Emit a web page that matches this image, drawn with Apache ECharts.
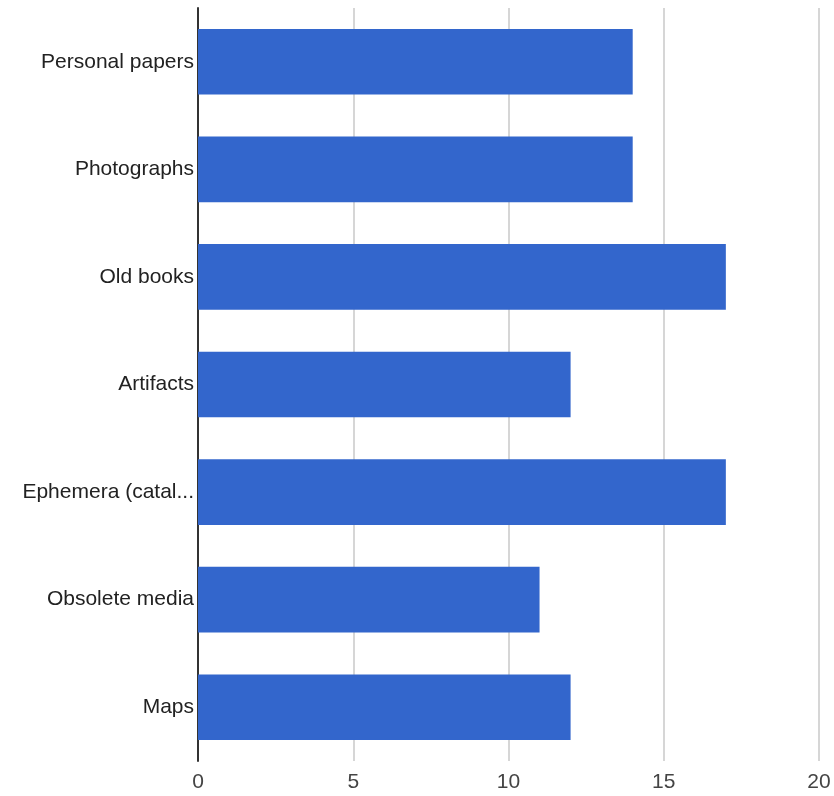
<!DOCTYPE html>
<html>
<head>
<meta charset="utf-8">
<script src="https://cdn.jsdelivr.net/npm/echarts@6/dist/echarts.min.js"></script>
<style>html,body{margin:0;padding:0;background:#fff}#c{width:834px;height:796px}</style>
</head>
<body>
<div id="c"></div>
<script>
const categories = ["Personal papers", "Photographs", "Old books", "Artifacts", "Ephemera (catalogs, brochures)", "Obsolete media", "Maps"];
const values = [14, 14, 17, 12, 17, 11, 12];
const xTicks = [0, 5, 10, 15, 20];

const chart = echarts.init(document.getElementById('c'), null, {renderer: 'canvas'});
chart.setOption({
  animation: false,
  grid: {left: 198, right: 15, top: 8, bottom: 35, containLabel: false},
  xAxis: {
    type: 'value', min: xTicks[0], max: xTicks[xTicks.length - 1], interval: 5,
    axisLine: {show: false}, axisTick: {show: false},
    axisLabel: {color: '#444', fontFamily: 'Liberation Sans, Arial', fontSize: 21, margin: 11},
    splitLine: {show: true, lineStyle: {color: '#d6d6d6', width: 2}}
  },
  yAxis: {
    type: 'category', data: categories, inverse: true,
    axisLine: {show: true, lineStyle: {color: '#333', width: 2}},
    axisTick: {show: false},
    axisLabel: {color: '#222', fontFamily: 'Liberation Sans, Arial', fontSize: 21, margin: 4,
      width: 178, overflow: 'truncate', ellipsis: '...'}
  },
  series: [{
    type: 'bar', data: values, barCategoryGap: '39%',
    itemStyle: {color: '#3366cc'}, z: 1
  }]
});
</script>
</body>
</html>
